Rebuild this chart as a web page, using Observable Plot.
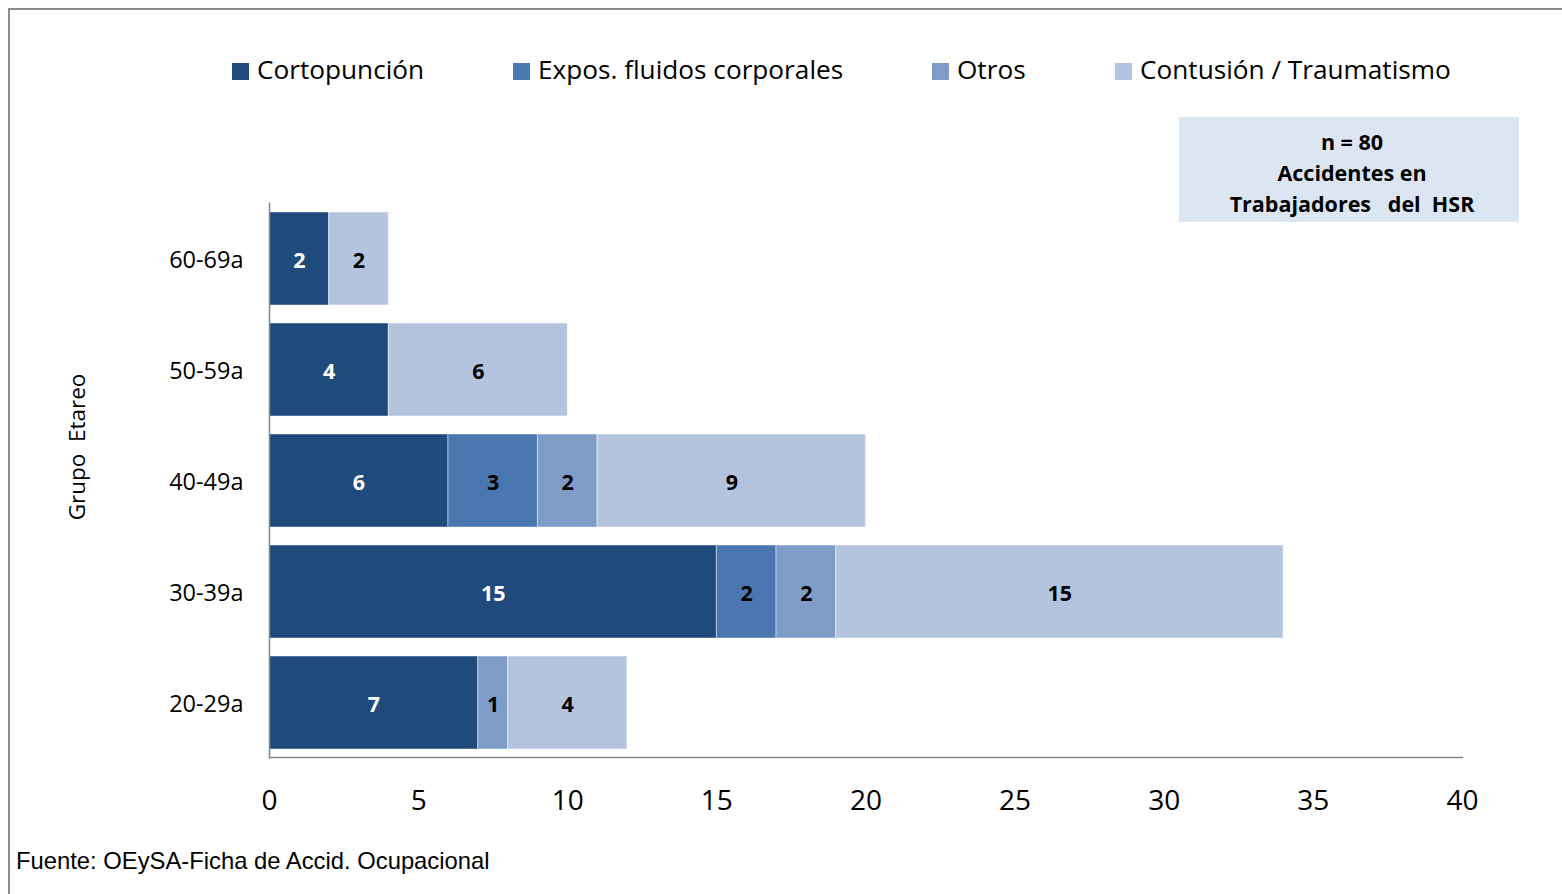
<!DOCTYPE html>
<html lang="es">
<head>
<meta charset="utf-8">
<script src="https://cdn.jsdelivr.net/npm/d3@7"></script>
<script src="https://cdn.jsdelivr.net/npm/@observablehq/plot@0.6"></script>
<style>
  html, body { margin: 0; padding: 0; background: #fff; }
  #figure { position: relative; width: 1562px; height: 894px; overflow: hidden; font-family: "Open Sans", sans-serif; }
  #border { position: absolute; left: 8px; top: 8px; width: 1700px; height: 1000px; border: 2px solid #8c8c8c; box-sizing: border-box; }
  #chart { position: absolute; left: 0; top: 0; }
  .legend-item { position: absolute; top: 52px; font-size: 26.2px; color: #000; white-space: nowrap; line-height: 34px; }
  .legend-item .sw { display: inline-block; width: 17px; height: 17px; margin-right: 8px; vertical-align: -1px; }
  #note { position: absolute; left: 1179px; top: 117px; width: 340px; height: 105px; background: #dce6f2;
          font-weight: 700; font-size: 21.5px; line-height: 31px; text-align: center; padding-top: 9px; padding-left: 6px;
          box-sizing: border-box; white-space: pre; }
  #ytitle { position: absolute; left: 76px; top: 447px; transform: translate(-50%, -50%) rotate(-90deg);
            font-size: 22.5px; white-space: pre; }
  #source { position: absolute; left: 16px; top: 847px; font-family: "Liberation Sans", Arial, sans-serif; font-size: 23.8px; }
</style>
</head>
<body>
<div id="figure">
  <div id="border"></div>
  <div id="chart"></div>
  <div id="legend"></div>
  <div id="note"></div>
  <div id="ytitle">Grupo  Etareo</div>
  <div id="source">Fuente: OEySA-Ficha de Accid. Ocupacional</div>
</div>
<script>
// Age groups, listed top to bottom as drawn
const ageGroups = ["60-69a", "50-59a", "40-49a", "30-39a", "20-29a"];

// Accident types and their fills
const series = ["Cortopunción", "Expos. fluidos corporales", "Otros", "Contusión / Traumatismo"];
const seriesColors = ["#214a7c", "#4a77af", "#7f9cc8", "#b5c4de"];

// Counts per age group (same order as ageGroups)
const cortopuncion = [2, 4, 6, 15, 7];
const exposFluidos = [0, 0, 3, 2, 0];
const otros        = [0, 0, 2, 2, 1];
const contusion    = [2, 6, 9, 15, 4];

const xTicks = [0, 5, 10, 15, 20, 25, 30, 35, 40];
const legendLeft = [232, 513, 932, 1115];
const noteLines = ["n = 80", "Accidentes en", "Trabajadores   del  HSR"];

// Long table: one row per (group, series), in stacking order
const columns = [cortopuncion, exposFluidos, otros, contusion];
const rows = [];
ageGroups.forEach((g, i) => {
  series.forEach((s, j) => {
    rows.push({group: g, series: s, value: columns[j][i]});
  });
});
const nonZero = rows.filter(d => d.value > 0);

const chart = Plot.plot({
  width: 1562,
  height: 894,
  marginLeft: 269,
  marginRight: 100,
  marginTop: 203,
  marginBottom: 137,
  style: {fontFamily: "Open Sans, sans-serif", background: "transparent"},
  x: {domain: [0, 40]},
  y: {domain: ageGroups, paddingInner: 0.165, paddingOuter: 0.075},
  color: {domain: series, range: seriesColors},
  marks: [
    Plot.barX(nonZero, Plot.stackX({
      y: "group", x: "value", fill: "series",
      stroke: "#ffffff", strokeOpacity: 0.45, strokeWidth: 1
    })),
    Plot.text(nonZero, Plot.stackX({
      y: "group", x: "value", z: "series", text: "value",
      fill: d => d.series === series[0] ? "white" : "black",
      fontSize: 21.5, fontWeight: 700, dy: 2
    })),
    Plot.frame({anchor: "left", stroke: "#868686", strokeWidth: 1.5}),
    Plot.frame({anchor: "bottom", stroke: "#868686", strokeWidth: 1.5}),
    Plot.axisX({ticks: xTicks, tickSize: 0, tickPadding: 33, fontSize: 28, label: null}),
    Plot.axisY({tickSize: 0, tickPadding: 26, fontSize: 23.5, label: null, dy: 1})
  ]
});
document.getElementById("chart").appendChild(chart);

// Legend along the top
const legend = document.getElementById("legend");
series.forEach((s, i) => {
  const item = document.createElement("div");
  item.className = "legend-item";
  item.style.left = legendLeft[i] + "px";
  const sw = document.createElement("span");
  sw.className = "sw";
  sw.style.background = seriesColors[i];
  item.appendChild(sw);
  item.appendChild(document.createTextNode(s));
  legend.appendChild(item);
});

document.getElementById("note").textContent = noteLines.join("\n");
</script>
</body>
</html>
